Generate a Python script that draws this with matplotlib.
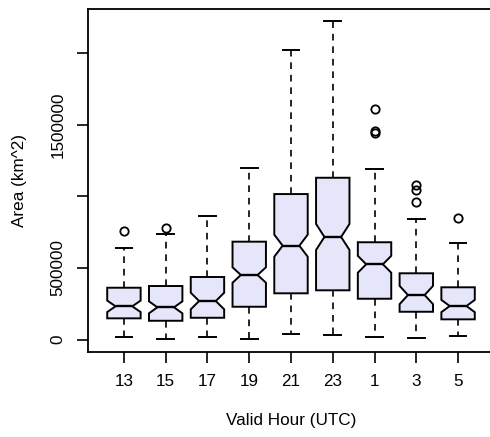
import matplotlib
matplotlib.use("Agg")
import matplotlib.pyplot as plt

hours = ["13", "15", "17", "19", "21", "23", "1", "3", "5"]
whislo = [20000, 2000, 20000, 2000, 36000, 31000, 15000, 13000, 24000]
q1 = [148000, 131000, 152000, 229000, 323000, 344000, 285000, 194000, 141000]
med = [232000, 225000, 269000, 451000, 656000, 717000, 526000, 311000, 234000]
q3 = [362000, 374000, 437000, 684000, 1017000, 1131000, 680000, 463000, 365000]
whishi = [642000, 736000, 864000, 1197000, 2025000, 2229000, 1190000, 845000, 673000]
notch_half = [40000, 42000, 58000, 54000, 77000, 91000, 59000, 64000, 43000]
outliers = [[759000], [778000], [], [], [], [], [1614000, 1455000, 1443000],
            [1080000, 1045000, 959000], [852000]]

stats = []
for i in range(len(hours)):
    stats.append(dict(label=hours[i], whislo=whislo[i], q1=q1[i], med=med[i],
                      q3=q3[i], whishi=whishi[i], fliers=outliers[i],
                      cilo=med[i] - notch_half[i], cihi=med[i] + notch_half[i]))

plt.rcParams['font.family'] = ['Liberation Sans', 'DejaVu Sans']
fig = plt.figure(figsize=(4.9, 4.37), dpi=100)
ax = fig.add_axes([88/490, 85/437, (494-88)/490, (352-9)/437])

ax.bxp(stats, positions=range(1, 10), widths=0.8, shownotches=True, patch_artist=True,
       boxprops=dict(facecolor='#E6E6FA', edgecolor='black', linewidth=1.4),
       medianprops=dict(color='black', linewidth=1.7),
       whiskerprops=dict(color='black', linewidth=1.2, linestyle=(0, (4, 3.5))),
       capprops=dict(color='black', linewidth=1.4),
       flierprops=dict(marker='o', markerfacecolor='none', markeredgecolor='black',
                       markersize=6, markeredgewidth=1.3))

ax.set_xlim(0.14, 9.86)
ax.set_ylim(-87400, 2311000)
ax.set_yticks([0, 500000, 1000000, 1500000, 2000000])
ax.set_yticklabels(['0', '500000', '', '1500000', ''], rotation=90, va='center')
ax.set_xticks(range(1, 10))
ax.set_xticklabels(hours)
ax.tick_params(axis='both', length=8, width=1.2, labelsize=12.3, pad=8)
for s in ax.spines.values():
    s.set_linewidth(1.3)
ax.set_xlabel('Valid Hour (UTC)', fontsize=12.3, labelpad=17)
ax.set_ylabel('Area (km^2)', fontsize=12.3, labelpad=17)

fig.savefig('out.png', dpi=100)
